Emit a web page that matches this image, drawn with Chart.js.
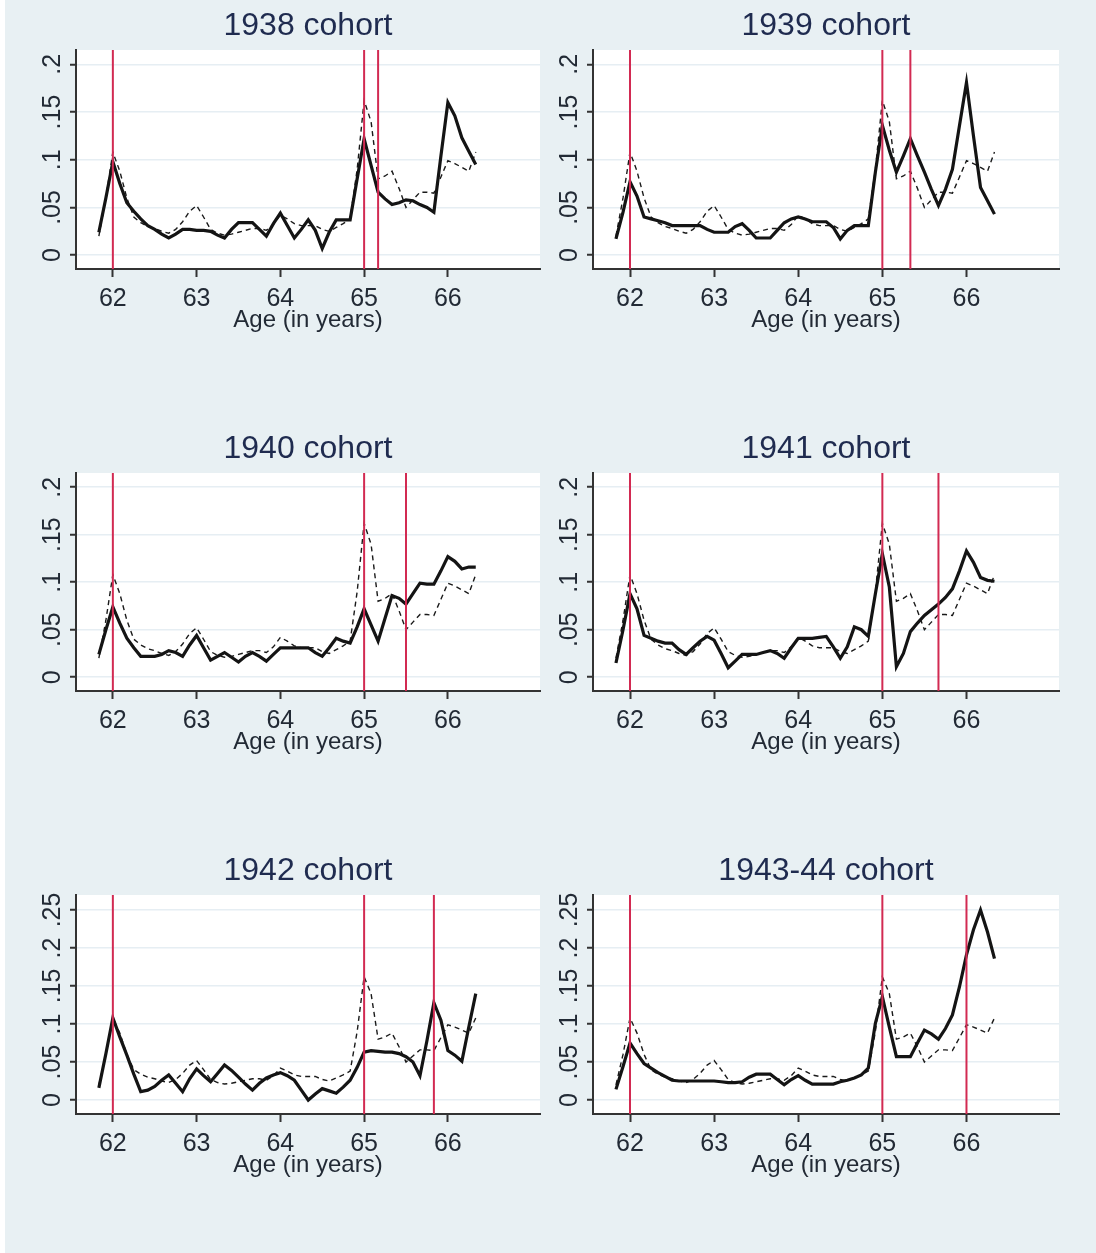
<!DOCTYPE html>
<html>
<head>
<meta charset="utf-8">
<title>Retirement hazard by cohort</title>
<script src="https://cdn.jsdelivr.net/npm/chart.js@4.4.1/dist/chart.umd.min.js"></script>
<style>
  html, body { margin: 0; padding: 0; background: #fff; overflow: hidden; }
  #bg { position: absolute; left: 5px; top: 0; width: 1091px; height: 1253px; background: #e8f0f3; }
  canvas { position: absolute; }
</style>
</head>
<body>
<div id="bg"></div>
<script>
// monthly ages, 61y10m .. 66y4m
const ages = [61.833, 61.917,
  62.000, 62.083, 62.167, 62.250, 62.333, 62.417, 62.500, 62.583, 62.667, 62.750, 62.833, 62.917,
  63.000, 63.083, 63.167, 63.250, 63.333, 63.417, 63.500, 63.583, 63.667, 63.750, 63.833, 63.917,
  64.000, 64.083, 64.167, 64.250, 64.333, 64.417, 64.500, 64.583, 64.667, 64.750, 64.833, 64.917,
  65.000, 65.083, 65.167, 65.250, 65.333, 65.417, 65.500, 65.583, 65.667, 65.750, 65.833, 65.917,
  66.000, 66.083, 66.167, 66.250, 66.333];

// dashed reference line (same in every panel)
const pooled = [0.020, 0.060, 0.108, 0.088, 0.060, 0.040, 0.034, 0.030, 0.028, 0.025,
  0.023, 0.027, 0.035, 0.046, 0.052, 0.040, 0.027, 0.023, 0.021, 0.022,
  0.024, 0.026, 0.028, 0.028, 0.026, 0.032, 0.042, 0.038, 0.033, 0.031,
  0.031, 0.031, 0.027, 0.025, 0.029, 0.033, 0.038, 0.090, 0.162, 0.140,
  0.080, 0.083, 0.088, 0.070, 0.050, 0.058, 0.066, 0.066, 0.065, 0.082,
  0.099, 0.096, 0.092, 0.088, 0.108];

const cohort1938 = [0.024, 0.060, 0.098, 0.075, 0.055, 0.046, 0.038, 0.031, 0.027, 0.022,
  0.018, 0.022, 0.027, 0.027, 0.026, 0.026, 0.025, 0.021, 0.018, 0.027,
  0.034, 0.034, 0.034, 0.027, 0.020, 0.033, 0.044, 0.031, 0.018, 0.027,
  0.037, 0.026, 0.007, 0.024, 0.037, 0.037, 0.037, 0.080, 0.122, 0.094,
  0.066, 0.059, 0.053, 0.055, 0.058, 0.057, 0.053, 0.050, 0.045, 0.104,
  0.160, 0.146, 0.123, 0.109, 0.095];

const cohort1939 = [0.017, 0.045, 0.077, 0.062, 0.040, 0.038, 0.036, 0.034, 0.031, 0.031,
  0.031, 0.031, 0.031, 0.027, 0.024, 0.024, 0.024, 0.030, 0.033, 0.026,
  0.018, 0.018, 0.018, 0.026, 0.034, 0.038, 0.040, 0.038, 0.035, 0.035,
  0.035, 0.029, 0.017, 0.026, 0.031, 0.031, 0.031, 0.087, 0.136, 0.110,
  0.087, 0.104, 0.122, 0.104, 0.087, 0.069, 0.052, 0.069, 0.090, 0.136,
  0.181, 0.125, 0.071, 0.057, 0.043];

const cohort1940 = [0.024, 0.050, 0.074, 0.057, 0.041, 0.031, 0.022, 0.022, 0.022, 0.024,
  0.028, 0.026, 0.022, 0.034, 0.044, 0.031, 0.018, 0.022, 0.026, 0.021,
  0.016, 0.022, 0.026, 0.022, 0.017, 0.024, 0.031, 0.031, 0.031, 0.031,
  0.031, 0.026, 0.022, 0.031, 0.041, 0.038, 0.036, 0.053, 0.072, 0.055,
  0.038, 0.062, 0.086, 0.083, 0.077, 0.088, 0.099, 0.098, 0.098, 0.112,
  0.127, 0.122, 0.114, 0.116, 0.116];

const cohort1941 = [0.015, 0.050, 0.088, 0.072, 0.044, 0.041, 0.038, 0.036, 0.036, 0.029,
  0.024, 0.031, 0.038, 0.043, 0.039, 0.025, 0.010, 0.017, 0.024, 0.024,
  0.024, 0.026, 0.028, 0.025, 0.020, 0.031, 0.041, 0.041, 0.041, 0.042,
  0.043, 0.032, 0.020, 0.032, 0.053, 0.050, 0.043, 0.088, 0.130, 0.095,
  0.011, 0.025, 0.048, 0.057, 0.065, 0.071, 0.077, 0.084, 0.093, 0.112,
  0.133, 0.121, 0.105, 0.102, 0.101];

const cohort1942 = [0.016, 0.061, 0.108, 0.083, 0.059, 0.034, 0.011, 0.013, 0.018, 0.026,
  0.033, 0.022, 0.011, 0.028, 0.041, 0.032, 0.024, 0.035, 0.046, 0.039,
  0.030, 0.021, 0.013, 0.022, 0.029, 0.033, 0.036, 0.032, 0.026, 0.013,
  0.000, 0.008, 0.015, 0.012, 0.009, 0.017, 0.026, 0.043, 0.063, 0.065,
  0.064, 0.063, 0.063, 0.061, 0.057, 0.050, 0.032, 0.078, 0.128, 0.105,
  0.065, 0.059, 0.051, 0.096, 0.140];

const cohort1943 = [0.014, 0.044, 0.075, 0.061, 0.048, 0.042, 0.036, 0.031, 0.026, 0.025,
  0.025, 0.025, 0.025, 0.025, 0.025, 0.024, 0.023, 0.023, 0.024, 0.030,
  0.034, 0.034, 0.034, 0.027, 0.020, 0.027, 0.032, 0.026, 0.021, 0.021,
  0.021, 0.021, 0.024, 0.026, 0.029, 0.033, 0.042, 0.101, 0.136, 0.096,
  0.057, 0.057, 0.057, 0.075, 0.092, 0.087, 0.080, 0.094, 0.112, 0.149,
  0.191, 0.224, 0.250, 0.221, 0.186];

const cohortNames = ['1938 cohort', '1939 cohort', '1940 cohort', '1941 cohort', '1942 cohort', '1943-44 cohort'];
const cohortSeries = [cohort1938, cohort1939, cohort1940, cohort1941, cohort1942, cohort1943];
const retirementAges = [[62, 65, 65.167], [62, 65, 65.333], [62, 65, 65.5],
                        [62, 65, 65.667], [62, 65, 65.833], [62, 65, 66]];

const ageTicks = [62, 63, 64, 65, 66];
const rateTicks = [0, 0.05, 0.1, 0.15, 0.2];
const rateLabels = ['0', '.05', '.1', '.15', '.2'];
const rateTicksWide = [0, 0.05, 0.1, 0.15, 0.2, 0.25];
const rateLabelsWide = ['0', '.05', '.1', '.15', '.2', '.25'];

const FONT = "'Liberation Sans', Arial, sans-serif";
const INK = '#222a35';

// white plot region like Stata's
const plotBg = {
    id: 'plotBg',
    beforeDraw(chart) {
        const a = chart.chartArea;
        const ctx = chart.ctx;
        ctx.save();
        ctx.fillStyle = '#ffffff';
        ctx.fillRect(a.left, a.top, a.right - a.left, a.bottom - a.top);
        ctx.restore();
    }
};

function toPoints(values) {
    return values.map((v, i) => ({ x: ages[i], y: v }));
}

function makePanel(i) {
    const col = i % 2;
    const row = Math.floor(i / 2);
    const plotTop = [50, 473, 895][row];
    const plotH = [219, 218, 219][row];
    const wide = row === 2;
    const yMin = wide ? -0.0184 : -0.0145;
    const yMax = wide ? 0.2697 : 0.215;
    const yTicks = wide ? rateTicksWide : rateTicks;
    const yLabels = wide ? rateLabelsWide : rateLabels;

    const left = col === 0 ? 5 : 548;
    const width = col === 0 ? 545 : 548;
    const yWidth = col === 0 ? 71 : 45;
    const padRight = col === 0 ? 10 : 37;
    const height = 345;
    const xHeight = 66;

    const canvas = document.createElement('canvas');
    canvas.width = width;
    canvas.height = height;
    canvas.style.left = left + 'px';
    canvas.style.top = (plotTop - 50) + 'px';
    document.body.appendChild(canvas);

    const datasets = [
        { data: toPoints(pooled), borderColor: '#1a1a1a', borderWidth: 1.4, borderDash: [5, 4], order: 3 },
        { data: toPoints(cohortSeries[i]), borderColor: '#141414', borderWidth: 3.2, order: 2 }
    ];
    retirementAges[i].forEach(a => {
        datasets.push({ data: [{ x: a, y: yMin }, { x: a, y: yMax }], borderColor: '#d22a52', borderWidth: 2, order: 1 });
    });

    new Chart(canvas, {
        type: 'line',
        data: { datasets: datasets },
        options: {
            responsive: false,
            animation: false,
            events: [],
            elements: { point: { radius: 0 }, line: { tension: 0 } },
            layout: { padding: { left: 0, right: padRight, top: 0, bottom: height - 50 - plotH - xHeight } },
            plugins: {
                legend: { display: false },
                tooltip: { enabled: false },
                title: {
                    display: true,
                    fullSize: false,   // centre over the plot region
                    text: cohortNames[i],
                    color: '#1f2b4f',
                    font: { family: FONT, size: 32, weight: 'normal' },
                    padding: { top: 7, bottom: 4.6 }
                }
            },
            scales: {
                x: {
                    type: 'linear',
                    min: 61.56,
                    max: 67.1,
                    afterBuildTicks: s => { s.ticks = ageTicks.map(v => ({ value: v })); },
                    afterFit: s => { s.height = xHeight; },
                    grid: { drawOnChartArea: false, tickLength: 8, tickColor: '#333', tickWidth: 2 },
                    border: { color: '#333', width: 2 },
                    ticks: {
                        autoSkip: false, maxRotation: 0, padding: 7, color: INK,
                        font: { family: FONT, size: 25 },
                        callback: v => String(v)
                    },
                    title: {
                        display: true, text: 'Age (in years)', color: INK,
                        font: { family: FONT, size: 24 },
                        padding: { top: 0, bottom: 0 }
                    }
                },
                y: {
                    min: yMin,
                    max: yMax,
                    afterBuildTicks: s => { s.ticks = yTicks.map(v => ({ value: v })); },
                    afterFit: s => { s.width = yWidth; },
                    grid: { color: '#e6eef3', lineWidth: 1.5, tickLength: 6, tickColor: '#333', tickWidth: 2 },
                    border: { color: '#333', width: 2 },
                    ticks: {
                        autoSkip: false, minRotation: 90, maxRotation: 90, crossAlign: 'center', padding: 0,
                        color: INK, font: { family: FONT, size: 25 },
                        callback: (v, idx) => yLabels[idx]
                    }
                }
            }
        },
        plugins: [plotBg]
    });
}

for (let i = 0; i < 6; i++) makePanel(i);
</script>
</body>
</html>
